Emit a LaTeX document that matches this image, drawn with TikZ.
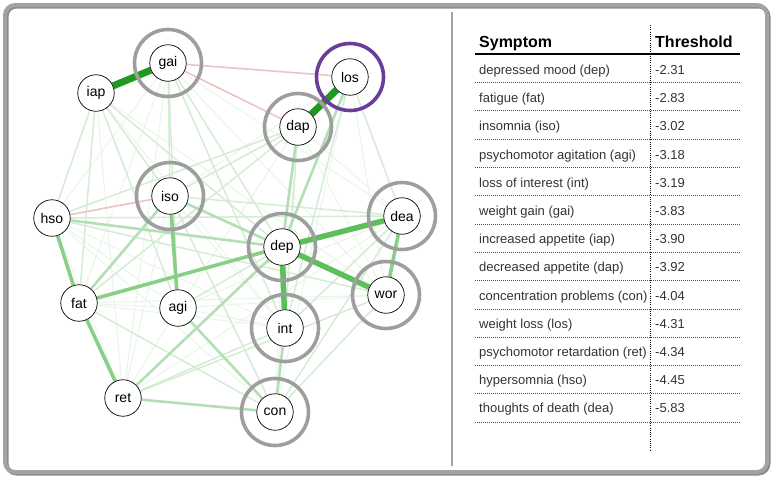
\documentclass[tikz,border=0pt]{standalone}
\usepackage{fontspec}
\setmainfont{Liberation Sans}
\usetikzlibrary{backgrounds}

\definecolor{posdark}{HTML}{1F9A1F}
\definecolor{posstrong}{HTML}{5CBF5C}
\definecolor{posmed}{HTML}{88CF88}
\definecolor{poslight}{HTML}{B4DEB4}
\definecolor{posfaint}{HTML}{D4ECD4}
\definecolor{posvfaint}{HTML}{E9F5E9}
\definecolor{negfaint}{HTML}{EBC3C3}
\definecolor{ringgray}{HTML}{9E9E9E}
\definecolor{ringpurple}{HTML}{6A3D9A}
\definecolor{framegray}{HTML}{A3A3A3}

\begin{document}
\begin{tikzpicture}[x=1pt,y=-1pt]
            \tikzstyle{symptom}=[circle, draw, fill=white, line width=0.7pt,
            minimum size=36.5pt, inner sep=0pt, font=\fontsize{14}{16}\selectfont]
            \tikzstyle{ring}=[draw=ringgray, line width=3.6pt]
            \tikzstyle{e1}=[draw=posvfaint, line width=1pt]
            \tikzstyle{e2}=[draw=posfaint, line width=1.5pt]
            \tikzstyle{e3}=[draw=poslight, line width=2.6pt]
            \tikzstyle{e4}=[draw=posmed, line width=3.6pt]
            \tikzstyle{e5}=[draw=posstrong, line width=5.5pt]
            \tikzstyle{e6}=[draw=posdark, line width=7pt]
            \tikzstyle{neg}=[draw=negfaint, line width=1.6pt]
            \tikzstyle{cell}=[anchor=base west, inner sep=0pt, text=black!80,
            font=\fontsize{13}{15}\selectfont]
            \tikzstyle{head}=[anchor=base west, inner sep=0pt,
            font=\fontsize{16}{18}\selectfont\bfseries]
            \tikzstyle{sep}=[black!70, line width=0.8pt, dash pattern=on 1pt off 1pt]
            \useasboundingbox (0,0) rectangle (773,480);
            % frame and divider
            \draw[black!45, line width=4pt, rounded corners=10pt] (6.5,6.5) rectangle (768.5,473.5);
            \draw[framegray, line width=4pt, rounded corners=10pt] (5,5) rectangle (767,472);
            \draw[framegray, line width=2pt] (452,12) -- (452,466);
            %        gai         los
            %   iap            dap
            % hso    iso            dea
            %              dep
            %  fat   agi    int    wor
            %    ret        con
            \node[symptom] (gai) at (168,63)  {gai};
            \node[symptom] (iap) at (96,93)   {iap};
            \node[symptom] (los) at (350,77)  {los};
            \node[symptom] (dap) at (298,127) {dap};
            \node[symptom] (iso) at (170,196) {iso};
            \node[symptom] (hso) at (52,218)  {hso};
            \node[symptom] (dea) at (402,216) {dea};
            \node[symptom] (dep) at (282,247) {dep};
            \node[symptom] (fat) at (79,303)  {fat};
            \node[symptom] (agi) at (178,308) {agi};
            \node[symptom] (wor) at (386,295) {wor};
            \node[symptom] (int) at (285,328) {int};
            \node[symptom] (ret) at (123,398) {ret};
            \node[symptom] (con) at (275,412) {con};
            \begin{scope}[on background layer]
            \path (iap) edge[e1] (ret) (iap) edge[e1] (int) (iap) edge[e1] (wor)
                  (gai) edge[e1] (hso) (gai) edge[e1] (fat) (gai) edge[e1] (ret)
                  (gai) edge[e1] (wor) (gai) edge[e1] (dea) (los) edge[e1] (iso)
                  (los) edge[e1] (con) (los) edge[e1] (wor) (dap) edge[e1] (agi)
                  (dap) edge[e1] (con) (dap) edge[e1] (wor) (dap) edge[e1] (dea)
                  (iso) edge[e1] (ret) (iso) edge[e1] (wor) (iso) edge[e1] (int)
                  (hso) edge[e1] (agi) (hso) edge[e1] (int) (hso) edge[e1] (ret)
                  (hso) edge[e1] (con) (fat) edge[e1] (agi) (fat) edge[e1] (int)
                  (fat) edge[e1] (wor) (fat) edge[e1] (dea) (agi) edge[e1] (ret)
                  (agi) edge[e1] (int) (agi) edge[e1] (wor) (agi) edge[e1] (dea)
                  (ret) edge[e1] (dea) (int) edge[e1] (dea) (dep) edge[e1] (con);
            \path (iap) edge[e2] (hso) (iap) edge[e2] (fat) (iap) edge[e2] (agi)
                  (iap) edge[e2] (iso) (iap) edge[e2] (dep) (gai) edge[e2] (iso)
                  (gai) edge[e2] (agi) (gai) edge[e2] (dep) (gai) edge[e2] (int)
                  (los) edge[e2] (dea) (los) edge[e2] (int) (dap) edge[e2] (iso)
                  (dap) edge[e2] (hso) (dap) edge[e2] (fat) (dap) edge[e2] (int)
                  (iso) edge[e2] (con) (iso) edge[e2] (dea) (hso) edge[e2] (dea)
                  (hso) edge[e2] (wor) (fat) edge[e2] (con) (ret) edge[e2] (int)
                  (ret) edge[e2] (wor) (wor) edge[e2] (con) (dea) edge[e2] (int)
                  (dea) edge[e2] (con) (agi) edge[e2] (dep);
            \path (gai) edge[neg] (los)
                  (gai) edge[neg] (dap)
                  (hso) edge[neg] (iso);
            \path (dap) edge[e3] (dep) (los) edge[e3] (dep) (iso) edge[e3] (dep)
                  (iso) edge[e3] (fat) (hso) edge[e3] (dep) (agi) edge[e3] (con)
                  (ret) edge[e3] (con) (ret) edge[e3] (dep) (int) edge[e3] (con);
            \path (hso) edge[e4] (fat) (fat) edge[e4] (ret) (dea) edge[e4] (wor)
                  (iso) edge[e4] (agi) (fat) edge[e4] (dep);
            \path (dep) edge[e5] (dea) (dep) edge[e5] (wor) (dep) edge[e5] (int);
            \path (gai) edge[e6] (iap) (los) edge[e6] (dap);
            % rings
            \foreach \s in {gai,dap,iso,dea,dep,wor,int,con}
                \draw[ring] (\s) circle[radius=33.5pt];
            \draw[ring, draw=ringpurple] (los) circle[radius=33.5pt];
            \end{scope}
            % table
            \node[head] (hsym) at (479,47.5) {Symptom};
            \node[head] (hthr) at (655,47.5) {Threshold};
            \draw[black, line width=1.2pt] (475,54) -- (740,54);
            \draw[black, line width=1pt, dash pattern=on 1pt off 1.2pt] (650,25) -- (650,450);
            \foreach \i in {0,...,12}
                \draw[sep] (475,{82.5+28.3*\i}) -- (740,{82.5+28.3*\i});
            \node[cell] (s1)  at (479,74.5)  {depressed mood (dep)};
            \node[cell] (t1)  at (655,74.5)  {-2.31};
            \node[cell] (s2)  at (479,102.7) {fatigue (fat)};
            \node[cell] (t2)  at (655,102.7) {-2.83};
            \node[cell] (s3)  at (479,130.9) {insomnia (iso)};
            \node[cell] (t3)  at (655,130.9) {-3.02};
            \node[cell] (s4)  at (479,159.1) {psychomotor agitation (agi)};
            \node[cell] (t4)  at (655,159.1) {-3.18};
            \node[cell] (s5)  at (479,187.3) {loss of interest (int)};
            \node[cell] (t5)  at (655,187.3) {-3.19};
            \node[cell] (s6)  at (479,215.5) {weight gain (gai)};
            \node[cell] (t6)  at (655,215.5) {-3.83};
            \node[cell] (s7)  at (479,243.7) {increased appetite (iap)};
            \node[cell] (t7)  at (655,243.7) {-3.90};
            \node[cell] (s8)  at (479,271.9) {decreased appetite (dap)};
            \node[cell] (t8)  at (655,271.9) {-3.92};
            \node[cell] (s9)  at (479,300.1) {concentration problems (con)};
            \node[cell] (t9)  at (655,300.1) {-4.04};
            \node[cell] (s10) at (479,328.3) {weight loss (los)};
            \node[cell] (t10) at (655,328.3) {-4.31};
            \node[cell] (s11) at (479,356.5) {psychomotor retardation (ret)};
            \node[cell] (t11) at (655,356.5) {-4.34};
            \node[cell] (s12) at (479,384.7) {hypersomnia (hso)};
            \node[cell] (t12) at (655,384.7) {-4.45};
            \node[cell] (s13) at (479,412.9) {thoughts of death (dea)};
            \node[cell] (t13) at (655,412.9) {-5.83};
\end{tikzpicture}
\end{document}
